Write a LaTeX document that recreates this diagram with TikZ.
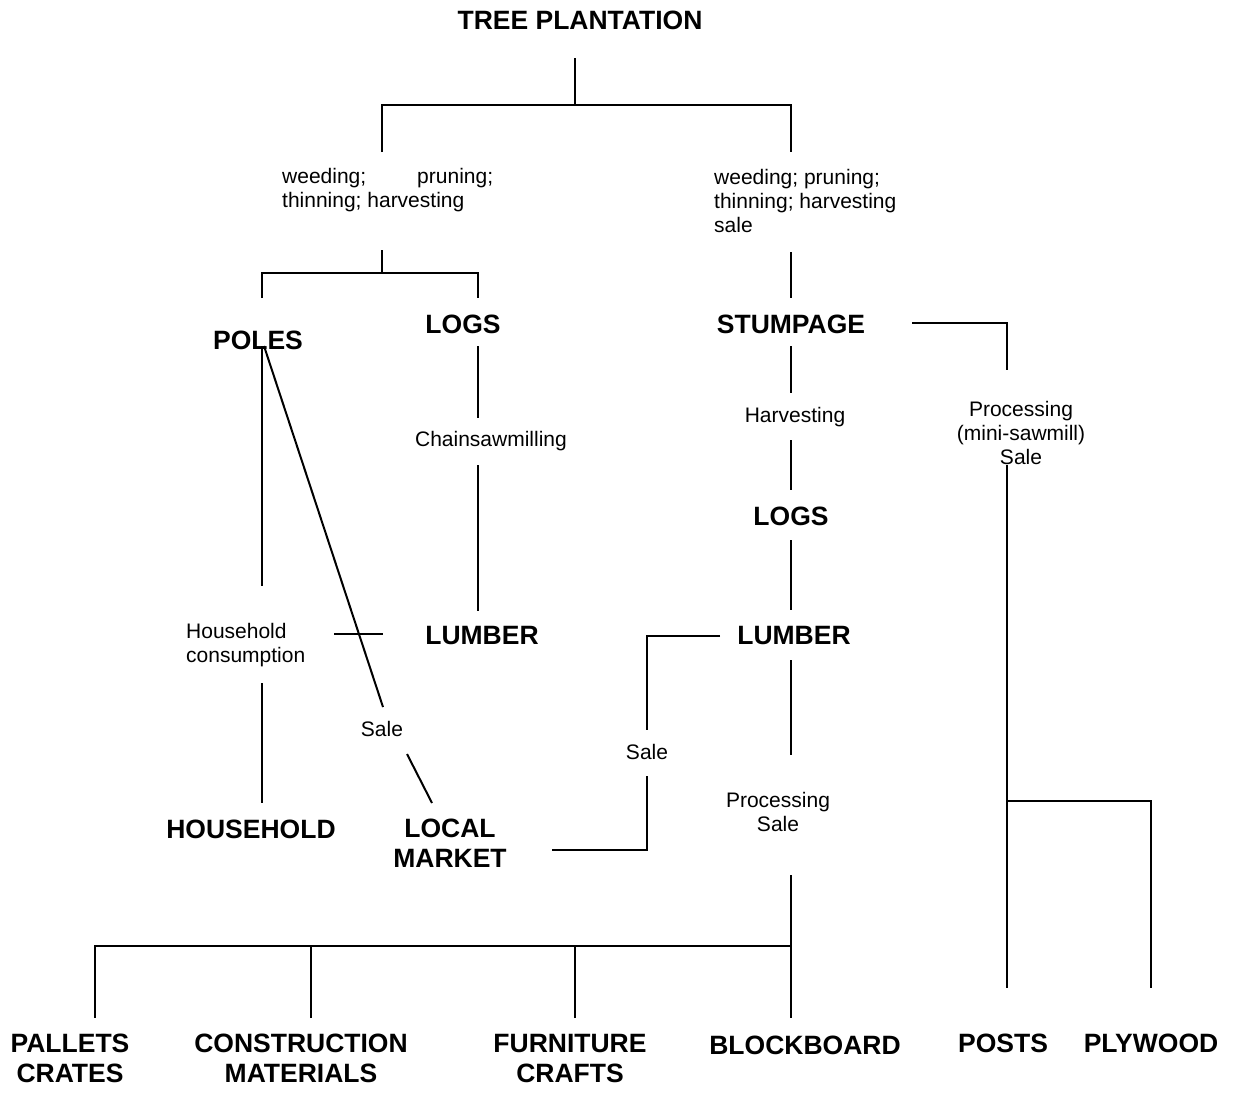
\documentclass[tikz,border=0pt]{standalone}
\usepackage{fontspec}
\setmainfont{Liberation Sans}
\usetikzlibrary{positioning}

\tikzset{
  stage/.style={font=\fontsize{26.5}{30}\selectfont\bfseries, align=center, inner sep=0pt},
  task/.style={font=\fontsize{21}{24}\selectfont, align=center, inner sep=0pt},
  link/.style={line width=2pt}
}

\begin{document}
\begin{tikzpicture}[x=1pt,y=-1pt]
    \useasboundingbox (0,0) rectangle (1239,1092);

    % products and stages
    \node[stage] (tree) at (580,20) {TREE PLANTATION};
    \node[stage] (poles) at (258,340) {POLES};
    \node[stage] (logsA) at (463,324) {LOGS};
    \node[stage] (stump) at (791,324) {STUMPAGE};
    \node[stage] (logsB) at (791,516) {LOGS};
    \node[stage] (lumberA) at (482,636) {LUMBER};
    \node[stage] (lumberB) at (794,636) {LUMBER};
    \node[stage] (house) at (251,829) {HOUSEHOLD};
    \node[stage] (market) at (450,843) {LOCAL\\MARKET};
    \node[stage] (pallets) at (70,1058) {PALLETS\\CRATES};
    \node[stage] (constr) at (301,1058) {CONSTRUCTION\\MATERIALS};
    \node[stage] (furn) at (570,1058) {FURNITURE\\CRAFTS};
    \node[stage] (block) at (805,1045) {BLOCKBOARD};
    \node[stage] (posts) at (1003,1043) {POSTS};
    \node[stage] (plywood) at (1151,1043) {PLYWOOD};

    % activities
    \node[task, align=left, anchor=west] (careA) at (282,190) {weeding;\hspace{51pt}pruning;\\thinning; harvesting};
    \node[task, align=left, anchor=west] (careB) at (714,201) {weeding; pruning;\\thinning; harvesting\\sale};
    \node[task] (chain) at (491,441) {Chainsawmilling};
    \node[task, align=left, anchor=west] (cons) at (186,645) {Household\\consumption};
    \node[task] (saleA) at (382,729) {Sale};
    \node[task] (harv) at (795,417) {Harvesting};
    \node[task] (saleB) at (647,752) {Sale};
    \node[task] (procB) at (778,812) {Processing\\Sale};
    \node[task] (procC) at (1021,433) {Processing\\(mini-sawmill)\\Sale};

    % junctions
    \coordinate (t0) at (575,58);
    \coordinate (t1) at (575,105);
    \coordinate (tl) at (382,152);
    \coordinate (tr) at (791,152);
    \coordinate (l0) at (382,250);
    \coordinate (l1) at (382,273);
    \coordinate (lp) at (262,298);
    \coordinate (lg) at (478,298);
    \coordinate (p0) at (262,346);
    \coordinate (p1) at (262,586);
    \coordinate (p2) at (262,683);
    \coordinate (p3) at (262,803);
    \coordinate (d0) at (264,346);
    \coordinate (d1) at (383,707);
    \coordinate (d2) at (407,754);
    \coordinate (d3) at (432,803);
    \coordinate (h0) at (334,634);
    \coordinate (h1) at (383,634);
    \coordinate (g0) at (478,346);
    \coordinate (g1) at (478,418);
    \coordinate (g2) at (478,465);
    \coordinate (g3) at (478,611);
    \coordinate (r0) at (791,252);
    \coordinate (r1) at (791,298);
    \coordinate (s0) at (791,346);
    \coordinate (s1) at (791,393);
    \coordinate (s2) at (791,440);
    \coordinate (s3) at (791,490);
    \coordinate (s4) at (791,540);
    \coordinate (s5) at (791,610);
    \coordinate (s6) at (791,660);
    \coordinate (s7) at (791,755);
    \coordinate (s8) at (791,875);
    \coordinate (s9) at (791,946);
    \coordinate (s10) at (791,1018);
    \coordinate (b1) at (95,1018);
    \coordinate (b2) at (311,1018);
    \coordinate (b3) at (575,1018);
    \coordinate (m0) at (912,323);
    \coordinate (m2) at (1007,370);
    \coordinate (m3) at (1007,465);
    \coordinate (m4) at (1007,801);
    \coordinate (m5) at (1007,988);
    \coordinate (m7) at (1151,988);
    \coordinate (k0) at (720,636);
    \coordinate (k2) at (647,730);
    \coordinate (k3) at (647,776);
    \coordinate (k5) at (552,850);

    % connectors
    \draw[link] (t0) -- (t1);
    \draw[link] (tl) |- (t1) -| (tr);
    \draw[link] (l0) -- (l1);
    \draw[link] (lp) |- (l1) -| (lg);
    \draw[link] (p0) -- (p1);
    \draw[link] (p2) -- (p3);
    \draw[link] (d0) -- (d1);
    \draw[link] (d2) -- (d3);
    \draw[link] (h0) -- (h1);
    \draw[link] (g0) -- (g1);
    \draw[link] (g2) -- (g3);
    \draw[link] (r0) -- (r1);
    \draw[link] (s0) -- (s1);
    \draw[link] (s2) -- (s3);
    \draw[link] (s4) -- (s5);
    \draw[link] (s6) -- (s7);
    \draw[link] (s8) -- (s10);
    \draw[link] (s9) -| (b1);
    \draw[link] (b2) |- (s9);
    \draw[link] (b3) |- (s9);
    \draw[link] (m0) -| (m2);
    \draw[link] (m3) -- (m5);
    \draw[link] (m4) -| (m7);
    \draw[link] (k0) -| (k2);
    \draw[link] (k3) |- (k5);
\end{tikzpicture}
\end{document}
